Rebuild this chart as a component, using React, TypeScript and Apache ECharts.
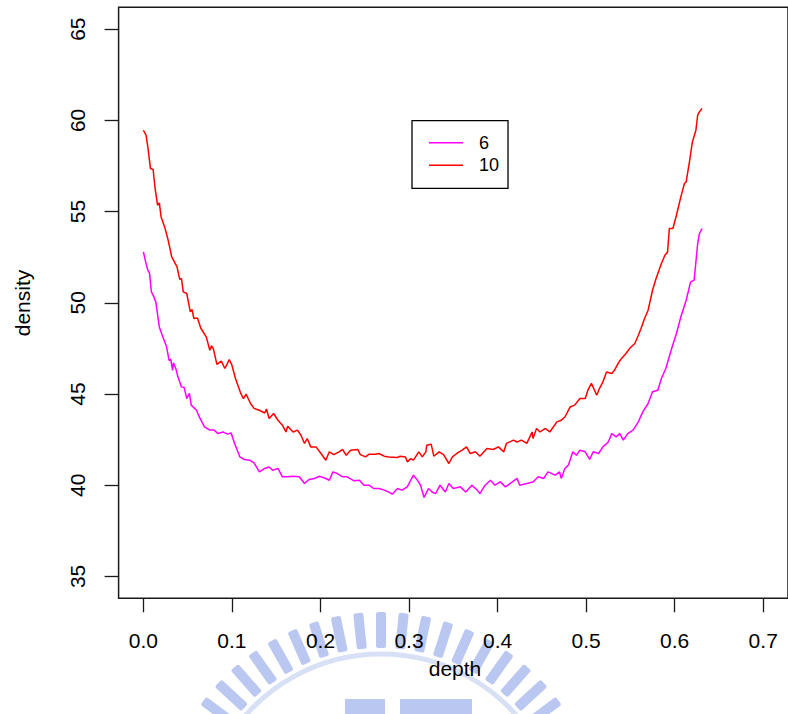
import React, { useEffect, useRef } from "react";
import * as echarts from "echarts";

const xTicks = [0, 0.1, 0.2, 0.3, 0.4, 0.5, 0.6, 0.7];
const yTicks = [35, 40, 45, 50, 55, 60, 65];
const seriesNames = ["6", "10"];
const seriesColors = ["#FF00FF", "#FF0000"];

const depth6 = [
  0, 0.003, 0.005, 0.007, 0.009, 0.011, 0.014, 0.018, 0.022, 0.026,
  0.029, 0.031, 0.033, 0.034, 0.037, 0.039, 0.043, 0.046, 0.049, 0.052,
  0.054, 0.06, 0.064, 0.069, 0.075, 0.08, 0.084, 0.09, 0.095, 0.099,
  0.103, 0.109, 0.114, 0.12, 0.125, 0.131, 0.137, 0.142, 0.146, 0.152,
  0.157, 0.163, 0.169, 0.176, 0.182, 0.187, 0.193, 0.199, 0.206, 0.21,
  0.214, 0.219, 0.225, 0.23, 0.238, 0.244, 0.249, 0.255, 0.26, 0.266,
  0.272, 0.277, 0.281, 0.287, 0.292, 0.298, 0.305, 0.309, 0.313, 0.317,
  0.322, 0.326, 0.33, 0.335, 0.341, 0.345, 0.35, 0.358, 0.364, 0.371,
  0.377, 0.38, 0.386, 0.392, 0.397, 0.403, 0.409, 0.414, 0.422, 0.425,
  0.433, 0.44, 0.446, 0.452, 0.457, 0.465, 0.47, 0.472, 0.476, 0.48,
  0.485, 0.489, 0.493, 0.499, 0.504, 0.508, 0.514, 0.519, 0.525, 0.529,
  0.534, 0.538, 0.542, 0.547, 0.553, 0.559, 0.564, 0.57, 0.575, 0.581,
  0.585, 0.59, 0.596, 0.602, 0.607, 0.613, 0.618, 0.622, 0.626, 0.628,
  0.631,
];
const density6 = [
  52.79, 52.15, 51.79, 51.61, 50.6, 50.42, 50.05, 48.68, 48.13, 47.62,
  46.85, 46.89, 46.3, 46.71, 46.34, 45.94, 45.39, 45.36, 44.75, 45.03,
  44.39, 44.11, 43.66, 43.2, 43.02, 43.02, 42.83, 42.92, 42.8, 42.87,
  42.29, 41.55, 41.41, 41.37, 41.22, 40.73, 40.92, 41.0, 40.82, 40.92,
  40.46, 40.46, 40.49, 40.46, 40.09, 40.31, 40.37, 40.49, 40.37, 40.27,
  40.73, 40.64, 40.46, 40.46, 40.24, 40.27, 40.0, 40.0, 39.82, 39.82,
  39.73, 39.63, 39.51, 39.82, 39.73, 39.91, 40.55, 40.31, 40.0, 39.33,
  39.82, 39.63, 39.54, 40.0, 39.63, 40.09, 39.82, 39.91, 39.63, 40.0,
  39.73, 39.54, 40.0, 40.27, 40.0, 40.18, 39.91, 40.09, 40.37, 40.0,
  40.09, 40.18, 40.46, 40.37, 40.73, 40.55, 40.73, 40.37, 40.92, 41.1,
  41.83, 41.64, 41.92, 41.83, 41.41, 41.83, 41.74, 42.1, 42.37, 42.83,
  42.65, 42.83, 42.47, 42.83, 43.02, 43.47, 44.02, 44.48, 45.12, 45.21,
  45.85, 46.4, 47.4, 48.32, 49.23, 50.14, 51.15, 51.24, 53.25, 53.8,
  54.07,
];

const depth10 = [
  0, 0.003, 0.005, 0.008, 0.011, 0.013, 0.016, 0.018, 0.02, 0.024,
  0.028, 0.032, 0.038, 0.041, 0.043, 0.045, 0.049, 0.053, 0.055, 0.057,
  0.061, 0.065, 0.071, 0.075, 0.077, 0.079, 0.083, 0.088, 0.092, 0.094,
  0.097, 0.1, 0.104, 0.11, 0.113, 0.116, 0.121, 0.125, 0.131, 0.137,
  0.139, 0.142, 0.147, 0.152, 0.157, 0.161, 0.163, 0.169, 0.174, 0.178,
  0.182, 0.185, 0.189, 0.195, 0.202, 0.206, 0.21, 0.215, 0.221, 0.225,
  0.229, 0.234, 0.242, 0.245, 0.251, 0.255, 0.262, 0.266, 0.272, 0.277,
  0.287, 0.29, 0.296, 0.298, 0.302, 0.305, 0.311, 0.315, 0.319, 0.32,
  0.325, 0.328, 0.334, 0.339, 0.345, 0.349, 0.354, 0.36, 0.365, 0.369,
  0.375, 0.38, 0.388, 0.395, 0.401, 0.407, 0.41, 0.418, 0.422, 0.427,
  0.433, 0.439, 0.44, 0.444, 0.448, 0.454, 0.459, 0.467, 0.472, 0.476,
  0.482, 0.487, 0.493, 0.499, 0.502, 0.506, 0.512, 0.515, 0.519, 0.523,
  0.529, 0.532, 0.536, 0.54, 0.545, 0.549, 0.555, 0.559, 0.562, 0.566,
  0.57, 0.575, 0.579, 0.585, 0.589, 0.592, 0.594, 0.598, 0.602, 0.607,
  0.611, 0.613, 0.617, 0.62, 0.624, 0.626, 0.628, 0.631,
];
const density10 = [
  59.46, 59.19, 58.55, 57.36, 57.31, 56.35, 55.35, 55.48, 54.71, 54.16,
  53.43, 52.52, 51.97, 51.28, 51.33, 50.6, 50.51, 49.5, 49.63, 49.14,
  49.17, 48.59, 48.13, 47.4, 47.64, 47.49, 46.62, 46.8, 46.4, 46.58,
  46.89, 46.58, 45.85, 45.03, 44.75, 44.99, 44.48, 44.21, 44.11, 43.96,
  44.18, 43.66, 43.93, 43.56, 43.29, 42.92, 43.23, 42.92, 43.02, 42.74,
  42.29, 42.56, 42.1, 42.1, 41.64, 41.37, 41.83, 41.68, 41.83, 41.96,
  41.64, 41.92, 41.96, 41.68, 41.55, 41.7, 41.7, 41.74, 41.59, 41.55,
  41.52, 41.59, 41.55, 41.28, 41.46, 41.37, 41.83, 41.55, 41.83, 42.19,
  42.25, 41.59, 41.83, 41.68, 41.19, 41.55, 41.74, 41.92, 42.1, 41.74,
  41.83, 41.59, 42.01, 41.96, 42.1, 41.83, 42.29, 42.47, 42.37, 42.47,
  42.29, 42.92, 42.56, 43.11, 42.92, 43.11, 42.92, 43.47, 43.56, 43.74,
  44.29, 44.39, 44.75, 44.75, 45.21, 45.58, 44.93, 45.3, 45.66, 46.21,
  46.12, 46.3, 46.67, 46.95, 47.22, 47.49, 47.77, 48.22, 48.59, 49.14,
  49.59, 50.69, 51.33, 52.15, 52.61, 52.79, 54.07, 54.07, 54.8, 55.81,
  56.54, 56.63, 57.82, 58.82, 59.46, 60.29, 60.47, 60.65,
];

const FONT = "'Liberation Sans', Arial, Helvetica, sans-serif";

function watermark() {
  const els: any[] = [];
  const cx = 381;
  const cy = 834;
  for (let i = -9; i <= 9; i++) {
    const th = (i * 5.9 * Math.PI) / 180;
    const r = 204;
    els.push({
      type: "rect",
      x: cx + r * Math.sin(th),
      y: cy - r * Math.cos(th),
      rotation: -th,
      shape: { x: -5, y: -18, width: 10, height: 36, r: 2 },
      style: { fill: "#aebdee", opacity: 0.85 },
      z: -10,
      silent: true,
    });
  }
  els.push({
    type: "arc",
    shape: { cx, cy, r: 180, startAngle: (-145 * Math.PI) / 180, endAngle: (-35 * Math.PI) / 180 },
    style: { stroke: "#d8e0f6", lineWidth: 5, fill: "none" },
    z: -10,
    silent: true,
  });
  els.push({
    type: "rect",
    shape: { x: 345, y: 699, width: 40, height: 20 },
    style: { fill: "#aebdee", opacity: 0.85 },
    z: -10,
    silent: true,
  });
  els.push({
    type: "rect",
    shape: { x: 400, y: 699, width: 72, height: 20 },
    style: { fill: "#aebdee", opacity: 0.85 },
    z: -10,
    silent: true,
  });
  return els;
}

export default function App() {
  const ref = useRef<HTMLDivElement>(null);
  useEffect(() => {
    if (!ref.current) return;
    const chart = echarts.init(ref.current, null, { renderer: "svg" });
    const s6 = depth6.map((d, i) => [d, density6[i]]);
    const s10 = depth10.map((d, i) => [d, density10[i]]);
    chart.setOption({
      animation: false,
      backgroundColor: "#ffffff",
      textStyle: { fontFamily: FONT },
      grid: {
        left: 118.6,
        top: 7.3,
        width: 672,
        height: 591,
        show: true,
        borderColor: "#1a1a1a",
        borderWidth: 1.5,
        backgroundColor: "transparent",
        containLabel: false,
      },
      xAxis: {
        type: "value",
        min: -0.028,
        max: 0.728,
        axisLine: { show: false, onZero: false },
        splitLine: { show: false },
        axisTick: {
          show: true,
          customValues: xTicks,
          length: 14,
          lineStyle: { color: "#1a1a1a", width: 1.3 },
        },
        axisLabel: {
          customValues: xTicks,
          formatter: (v: number) => v.toFixed(1),
          fontSize: 21,
          fontFamily: FONT,
          color: "#000",
          margin: 32,
        },
      },
      yAxis: {
        type: "value",
        min: 33.8,
        max: 66.2,
        axisLine: { show: false, onZero: false },
        splitLine: { show: false },
        axisTick: {
          show: true,
          customValues: yTicks,
          length: 14,
          lineStyle: { color: "#1a1a1a", width: 1.3 },
        },
        axisLabel: {
          customValues: yTicks,
          rotate: 90,
          fontSize: 21,
          fontFamily: FONT,
          color: "#000",
          margin: 31,
        },
      },
      legend: {
        data: seriesNames,
        orient: "vertical",
        left: 412,
        top: 120.7,
        borderColor: "#000",
        borderWidth: 1.3,
        borderRadius: 0,
        padding: [13, 9, 14, 17],
        icon: "rect",
        itemWidth: 34,
        itemHeight: 1.6,
        itemGap: 4.6,
        textStyle: { fontSize: 18, fontFamily: FONT, color: "#000", padding: [0, 0, 0, 11] },
      },
      graphic: [
        ...watermark(),
        {
          type: "text",
          x: 455,
          y: 668,
          style: { text: "depth", fontSize: 21, fontFamily: FONT, fill: "#000", textAlign: "center", textVerticalAlign: "middle" },
          z: 10,
        },
        {
          type: "text",
          x: 22,
          y: 303,
          rotation: Math.PI / 2,
          style: { text: "density", fontSize: 21, fontFamily: FONT, fill: "#000", textAlign: "center", textVerticalAlign: "middle" },
          z: 10,
        },
      ],
      series: [
        {
          name: seriesNames[0],
          type: "line",
          data: s6,
          symbol: "none",
          color: seriesColors[0],
          lineStyle: { color: seriesColors[0], width: 1.5 },
        },
        {
          name: seriesNames[1],
          type: "line",
          data: s10,
          symbol: "none",
          color: seriesColors[1],
          lineStyle: { color: seriesColors[1], width: 1.5 },
        },
      ],
    });
    return () => chart.dispose();
  }, []);
  return (
    <div
      ref={ref}
      style={{ position: "fixed", left: 0, top: 0, width: 788, height: 714, background: "#fff" }}
    />
  );
}
